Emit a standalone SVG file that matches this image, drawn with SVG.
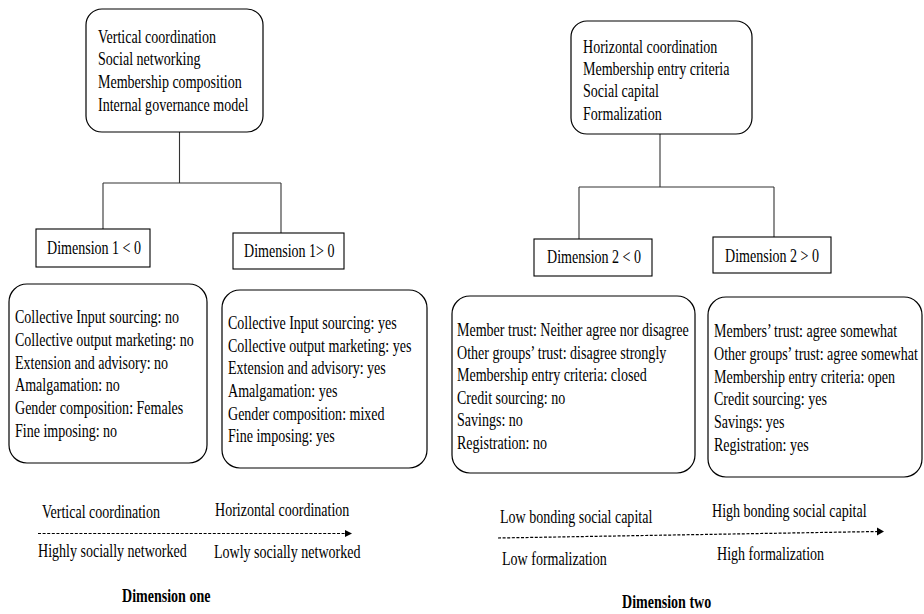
<svg xmlns="http://www.w3.org/2000/svg" width="924" height="614" viewBox="0 0 924 614">
  <style>
    .box { fill: #ffffff; stroke: #000000; stroke-width: 1.2; }
    .rect { fill: #ffffff; stroke: #000000; stroke-width: 1.1; }
    .wire { fill: none; stroke: #333333; stroke-width: 1.1; }
    .axis { fill: none; stroke: #000000; stroke-width: 1.2; stroke-dasharray: 3 1.6; }
    .head { fill: #000000; }
    text { font-family: "Liberation Serif", "Times New Roman", serif; font-size: 18px; fill: #000000; }
    .bold { font-weight: bold; }
  </style>
  <rect width="924" height="614" fill="#ffffff"/>

  <!-- connectors -->
  <g id="connectors">
    <path class="wire" d="M179.5 132 V183 M103 183 H281 M103 183 V229 M281 183 V233"/>
    <path class="wire" d="M660 134 V187 M579 187 H774 M579 187 V239 M774 187 V237"/>
  </g>

  <!-- dimension one tree -->
  <g id="dim1-root">
    <rect class="box" x="86" y="9" width="177" height="123" rx="16"/>
    <text transform="translate(98 42.5) scale(0.78 1)">
      <tspan x="0" y="0">Vertical coordination</tspan>
      <tspan x="0" y="23">Social networking</tspan>
      <tspan x="0" y="46">Membership composition</tspan>
      <tspan x="0" y="69">Internal governance model</tspan>
    </text>
  </g>
  <g id="dim1-neg">
    <rect class="rect" x="36" y="229" width="114" height="38"/>
    <text transform="translate(47 254) scale(0.78 1)">Dimension 1 &lt; 0</text>
  </g>
  <g id="dim1-pos">
    <rect class="rect" x="233" y="233" width="111" height="36"/>
    <text transform="translate(244 257) scale(0.78 1)">Dimension 1&gt; 0</text>
  </g>
  <g id="dim1-neg-traits">
    <rect class="box" x="9" y="284" width="198" height="179" rx="18"/>
    <text transform="translate(15 323) scale(0.78 1)">
      <tspan x="0" y="0">Collective Input sourcing: no</tspan>
      <tspan x="0" y="22.8">Collective output marketing: no</tspan>
      <tspan x="0" y="45.6">Extension and advisory: no</tspan>
      <tspan x="0" y="68.4">Amalgamation: no</tspan>
      <tspan x="0" y="91.2">Gender composition: Females</tspan>
      <tspan x="0" y="114">Fine imposing: no</tspan>
    </text>
  </g>
  <g id="dim1-pos-traits">
    <rect class="box" x="222" y="290" width="205" height="178" rx="18"/>
    <text transform="translate(228 329) scale(0.78 1)">
      <tspan x="0" y="0">Collective Input sourcing: yes</tspan>
      <tspan x="0" y="22.7">Collective output marketing: yes</tspan>
      <tspan x="0" y="45.4">Extension and advisory: yes</tspan>
      <tspan x="0" y="68.1">Amalgamation: yes</tspan>
      <tspan x="0" y="90.8">Gender composition: mixed</tspan>
      <tspan x="0" y="113.5">Fine imposing: yes</tspan>
    </text>
  </g>

  <!-- dimension two tree -->
  <g id="dim2-root">
    <rect class="box" x="571" y="21" width="181" height="113" rx="16"/>
    <text transform="translate(583 52.5) scale(0.78 1)">
      <tspan x="0" y="0">Horizontal coordination</tspan>
      <tspan x="0" y="22.5">Membership entry criteria</tspan>
      <tspan x="0" y="45">Social capital</tspan>
      <tspan x="0" y="67.5">Formalization</tspan>
    </text>
  </g>
  <g id="dim2-neg">
    <rect class="rect" x="534" y="239" width="118" height="37"/>
    <text transform="translate(547 263) scale(0.78 1)">Dimension 2 &lt; 0</text>
  </g>
  <g id="dim2-pos">
    <rect class="rect" x="713" y="237" width="118" height="36"/>
    <text transform="translate(725 262) scale(0.78 1)">Dimension 2 &gt; 0</text>
  </g>
  <g id="dim2-neg-traits">
    <rect class="box" x="452" y="296" width="243" height="177" rx="18"/>
    <text transform="translate(457 336) scale(0.78 1)">
      <tspan x="0" y="0">Member trust: Neither agree nor disagree</tspan>
      <tspan x="0" y="22.6">Other groups’ trust: disagree strongly</tspan>
      <tspan x="0" y="45.2">Membership entry criteria: closed</tspan>
      <tspan x="0" y="67.8">Credit sourcing: no</tspan>
      <tspan x="0" y="90.4">Savings: no</tspan>
      <tspan x="0" y="113">Registration: no</tspan>
    </text>
  </g>
  <g id="dim2-pos-traits">
    <rect class="box" x="708" y="297" width="214" height="180" rx="18"/>
    <text transform="translate(714 337) scale(0.78 1)">
      <tspan x="0" y="0">Members’ trust: agree somewhat</tspan>
      <tspan x="0" y="22.8">Other groups’ trust: agree somewhat</tspan>
      <tspan x="0" y="45.6">Membership entry criteria: open</tspan>
      <tspan x="0" y="68.4">Credit sourcing: yes</tspan>
      <tspan x="0" y="91.2">Savings: yes</tspan>
      <tspan x="0" y="114">Registration: yes</tspan>
    </text>
  </g>

  <!-- dimension one axis -->
  <g id="axis-one">
    <line class="axis" x1="38" y1="533.5" x2="346" y2="533.5"/>
    <polygon class="head" points="345,530 352,533.5 345,537"/>
    <text transform="translate(42 518) scale(0.78 1)">Vertical coordination</text>
    <text transform="translate(215 516) scale(0.78 1)">Horizontal coordination</text>
    <text transform="translate(38 557) scale(0.78 1)">Highly socially networked</text>
    <text transform="translate(214 558) scale(0.78 1)">Lowly socially networked</text>
    <text class="bold" transform="translate(122 602) scale(0.78 1)">Dimension one</text>
  </g>

  <!-- dimension two axis -->
  <g id="axis-two">
    <line class="axis" x1="498" y1="538" x2="878" y2="531.5"/>
    <polygon class="head" points="877,527.5 884,531.5 877,535.5"/>
    <text transform="translate(500 523) scale(0.78 1)">Low bonding social capital</text>
    <text transform="translate(712 517) scale(0.78 1)">High bonding social capital</text>
    <text transform="translate(502 565) scale(0.78 1)">Low formalization</text>
    <text transform="translate(717 560) scale(0.78 1)">High formalization</text>
    <text class="bold" transform="translate(622 608) scale(0.78 1)">Dimension two</text>
  </g>
</svg>
